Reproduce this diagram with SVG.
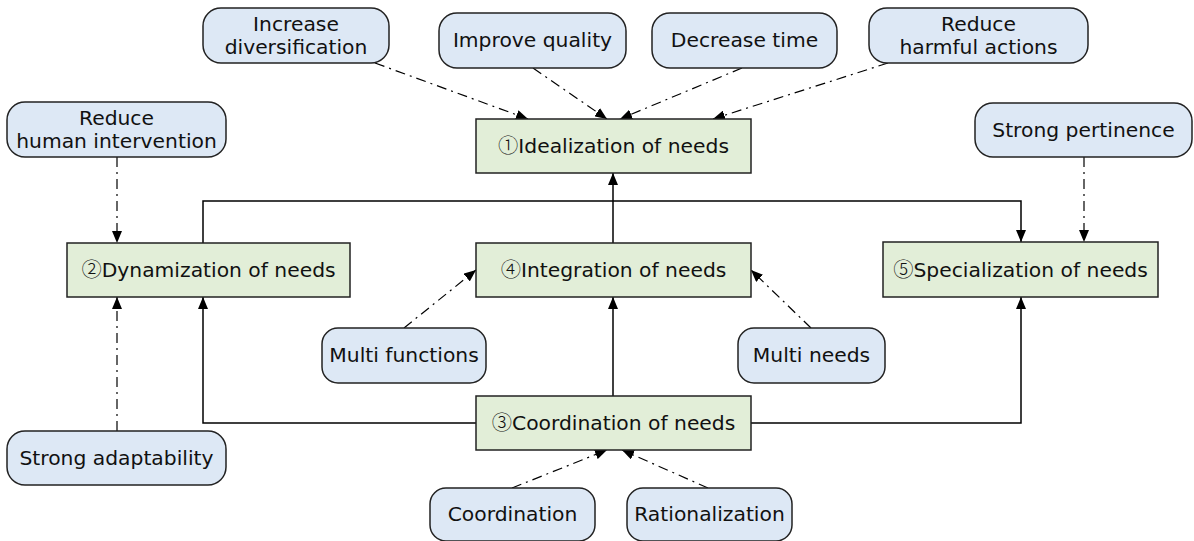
<svg xmlns="http://www.w3.org/2000/svg" width="1194" height="541" viewBox="0 0 1194 541">
  <defs>
    <marker id="arrow" viewBox="0 0 12 10" refX="12" refY="5" markerWidth="12" markerHeight="10" markerUnits="userSpaceOnUse" orient="auto">
      <path d="M0,0 L12,5 L0,10 Z" fill="#000" stroke="none"/>
    </marker>
  </defs>
  <style>
    text { font-family: "DejaVu Sans", "Noto Sans CJK SC", sans-serif; font-size: 20.3px; fill: #111; text-anchor: middle; }
    .num { font-family: "Noto Sans CJK SC", "DejaVu Sans", sans-serif; font-weight: 300; }
    .bubble { fill: #dde8f5; stroke: #222; stroke-width: 1.5; }
    .box { fill: #e2eed8; stroke: #222; stroke-width: 1.5; }
    .solid { fill: none; stroke: #000; stroke-width: 1.5; marker-end: url(#arrow); }
    .dash { fill: none; stroke: #000; stroke-width: 1.2; stroke-dasharray: 10 5 2 5; marker-end: url(#arrow); }
  </style>

  <!-- connectors -->
  <g id="connectors">
    <path class="solid" d="M613,243 L613,173"/>
    <path class="solid" d="M613,396 L613,297"/>
    <path class="solid" d="M203,243 L203,201 L1021,201 L1021,242"/>
    <path class="solid" d="M476,423 L203,423 L203,297"/>
    <path class="solid" d="M751,423 L1021,423 L1021,297"/>
    <path class="dash" d="M375,63 L528,119"/>
    <path class="dash" d="M533,68 L607,119"/>
    <path class="dash" d="M742,68 L620,119"/>
    <path class="dash" d="M888,63 L713,119"/>
    <path class="dash" d="M117,157 L117,243"/>
    <path class="dash" d="M1084,157 L1084,242"/>
    <path class="dash" d="M117,431 L117,297"/>
    <path class="dash" d="M404,328 L476,270"/>
    <path class="dash" d="M811,328 L751,270"/>
    <path class="dash" d="M512,488 L607,450"/>
    <path class="dash" d="M708,488 L622,450"/>
  </g>

  <!-- main needs boxes -->
  <g id="idealization">
    <rect class="box" x="476" y="119" width="275" height="54"/>
    <text x="613.5" y="153"><tspan class="num">①</tspan>Idealization of needs</text>
  </g>
  <g id="dynamization">
    <rect class="box" x="67" y="243" width="283" height="54"/>
    <text x="208.5" y="277"><tspan class="num">②</tspan>Dynamization of needs</text>
  </g>
  <g id="integration">
    <rect class="box" x="476" y="243" width="275" height="54"/>
    <text x="613.5" y="277"><tspan class="num">④</tspan>Integration of needs</text>
  </g>
  <g id="specialization">
    <rect class="box" x="883" y="242" width="275" height="55"/>
    <text x="1020.5" y="277"><tspan class="num">⑤</tspan>Specialization of needs</text>
  </g>
  <g id="coordination-needs">
    <rect class="box" x="476" y="396" width="275" height="54"/>
    <text x="613.5" y="430"><tspan class="num">③</tspan>Coordination of needs</text>
  </g>

  <!-- attribute bubbles -->
  <g id="increase-diversification">
    <rect class="bubble" x="203" y="8" width="186" height="55" rx="18"/>
    <text x="296" y="31">Increase</text>
    <text x="296" y="54">diversification</text>
  </g>
  <g id="improve-quality">
    <rect class="bubble" x="439" y="13" width="187" height="55" rx="18"/>
    <text x="532.5" y="47">Improve quality</text>
  </g>
  <g id="decrease-time">
    <rect class="bubble" x="652" y="13" width="185" height="55" rx="18"/>
    <text x="744.5" y="47">Decrease time</text>
  </g>
  <g id="reduce-harmful">
    <rect class="bubble" x="869" y="8" width="219" height="55" rx="18"/>
    <text x="978.5" y="31">Reduce</text>
    <text x="978.5" y="54">harmful actions</text>
  </g>
  <g id="reduce-human">
    <rect class="bubble" x="7" y="102" width="219" height="55" rx="18"/>
    <text x="116.5" y="125">Reduce</text>
    <text x="116.5" y="148">human intervention</text>
  </g>
  <g id="strong-pertinence">
    <rect class="bubble" x="975" y="103" width="217" height="54" rx="18"/>
    <text x="1083.5" y="137">Strong pertinence</text>
  </g>
  <g id="multi-functions">
    <rect class="bubble" x="322" y="328" width="164" height="55" rx="16"/>
    <text x="404" y="362">Multi functions</text>
  </g>
  <g id="multi-needs">
    <rect class="bubble" x="738" y="328" width="147" height="55" rx="16"/>
    <text x="811.5" y="362">Multi needs</text>
  </g>
  <g id="strong-adaptability">
    <rect class="bubble" x="7" y="431" width="219" height="54" rx="18"/>
    <text x="116.5" y="465">Strong adaptability</text>
  </g>
  <g id="coordination">
    <rect class="bubble" x="430" y="488" width="165" height="53" rx="16"/>
    <text x="512.5" y="521">Coordination</text>
  </g>
  <g id="rationalization">
    <rect class="bubble" x="627" y="488" width="165" height="53" rx="16"/>
    <text x="709.5" y="521">Rationalization</text>
  </g>
</svg>
